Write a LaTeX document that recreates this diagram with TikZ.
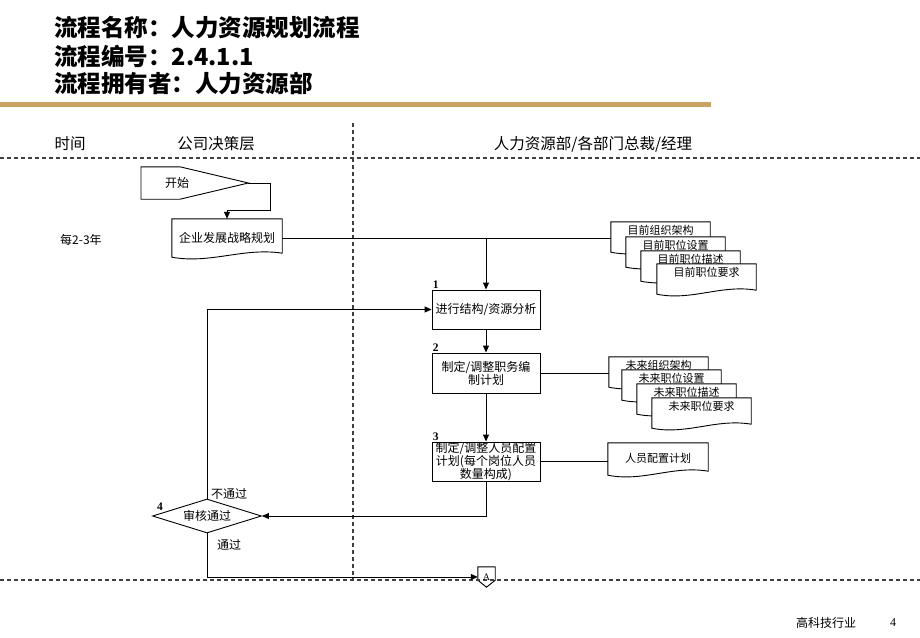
\documentclass[tikz,border=0pt]{standalone}
\usepackage{fontspec}
\setmainfont{Noto Sans CJK SC}
\newfontfamily\serifnum{Liberation Serif}
\usetikzlibrary{arrows.meta,calc,shapes.geometric}
\definecolor{goldbar}{HTML}{C9A465}
\pgfdeclarelayer{background}
\pgfsetlayers{background,main}
\newcommand\docdraw[1]{%
  \draw[docline] (#1.north west) -- (#1.north east) -- ($(#1.south east)+(0,-4)$)
    .. controls ($(#1.south east)!0.35!(#1.south west)+(0,-10)$) and ($(#1.south east)!0.65!(#1.south west)+(0,7)$) .. (#1.south west) -- cycle;}
\begin{document}
\begin{tikzpicture}[x=1pt,y=-1pt,
  every node/.style={font=\fontsize{12}{13}\selectfont, inner sep=1pt},
  title/.style={anchor=west, font=\fontsize{23.5}{26}\selectfont\bfseries},
  head/.style={font=\fontsize{15.5}{17}\selectfont},
  dline/.style={dash pattern=on 4pt off 3pt, line width=1.1pt, black!75},
  conn/.style={line width=1pt},
  arr/.style={conn, -{Triangle[length=7pt,width=6pt]}},
  box/.style={draw, line width=0.9pt, minimum width=108pt, align=center},
  docnode/.style={minimum width=99pt, inner xsep=1pt, inner ysep=2pt, text height=10pt, text depth=16pt, font=\fontsize{11}{12}\selectfont},
  docline/.style={draw, fill=white, line width=0.9pt},
  num/.style={font=\serifnum\fontsize{11.5}{12}\selectfont\bfseries, inner sep=1pt}]
\useasboundingbox (0,0) rectangle (920,637);

% title
\node[title] (t1) at (53,28) {流程名称：人力资源规划流程};
\node[title] (t2) at (53,56) {流程编号：2.4.1.1};
\node[title] (t3) at (53,84) {流程拥有者：人力资源部};
\fill[goldbar] (0,102) rectangle (711,107);

% lanes
\draw[dline] (353,123) -- (353,581);
\draw[dline] (0,158) -- (920,158);
\draw[dline] (0,580) -- (920,580);
\node[head] (h1) at (70,144) {时间};
\node[head] (h2) at (216,144) {公司决策层};
\node[head] (h3) at (593,144) {人力资源部/各部门总裁/经理};
\node[anchor=west] (yr) at (59,240) {每2-3年};

% start
\node[anchor=west, text width=99pt, inner xsep=4pt, minimum height=32pt, align=left] (start) at (141,183) {\hspace{20pt}开始};
\draw[line width=0.9pt] (start.north west) -- ($(start.north west)+(39,0)$) -- (start.east) -- ($(start.south west)+(39,0)$) -- (start.south west) -- cycle;

% plan document
\node[minimum width=110pt, minimum height=38pt] (plan) at (227,238) {企业发展战略规划};

% process boxes
\node[box, minimum height=39pt, label={[num, anchor=south west]north west:1}] (s1) at (486,309.5) {进行结构/资源分析};
\node[box, minimum height=40pt, label={[num, anchor=south west]north west:2}] (s2) at (486,373) {制定/调整职务编\\制计划};
\node[box, minimum height=39pt, inner ysep=0pt, label={[num, anchor=south west]north west:3}] (s3) at (486,461.5) {制定/调整人员配置\\计划(每个岗位人员\\数量构成)};

% decision
\node[diamond, draw, line width=0.9pt, minimum width=109pt, minimum height=34pt, aspect=3.2, inner sep=0pt] (dec) at (207,516) {审核通过};
\node[num, anchor=south west] (n4) at (156,512) {4};

% off-page connector
\node[minimum width=17pt, minimum height=20pt, inner sep=0pt, font=\serifnum\fontsize{10}{10}\selectfont] (A) at (486.5,577) {A};

% current documents stack
\node[docnode] (c1) at (660.5,237) {目前组织架构};
\node[docnode] (c2) at (675.5,252) {目前职位设置};
\node[docnode] (c3) at (690.5,266) {目前职位描述};
\node[docnode] (c4) at (706.5,279) {目前职位要求};

% future documents stack
\node[docnode] (f1) at (658.5,372) {未来组织架构};
\node[docnode] (f2) at (671.5,385) {未来职位设置};
\node[docnode] (f3) at (686.5,399) {未来职位描述};
\node[docnode] (f4) at (701.5,413) {未来职位要求};

% staffing plan doc
\node[minimum width=100pt, minimum height=32pt, inner ysep=0pt, text height=9pt, text depth=3pt, font=\fontsize{11}{12}\selectfont] (staff) at (658,459) {人员配置计划};

% document outlines (behind the texts)
\begin{pgfonlayer}{background}
  \docdraw{plan}
  \foreach \n in {c1,c2,c3,c4,f1,f2,f3,f4}{\docdraw{\n}}
  \docdraw{staff}
  \draw[line width=0.9pt, fill=white] (A.north west) -- (A.north east) -- ($(A.south east)+(0,-7)$) -- (A.south) -- ($(A.south west)+(0,-7)$) -- cycle;
\end{pgfonlayer}

% connectors
\draw[arr] (start.east) -| ($(start.east)+(22,27)$) -| (plan.north);
\draw[conn] (plan.east) -- (plan.east -| c1.west);
\draw[arr] (plan.east -| s1.north) -- (s1.north);
\draw[arr] (s1) -- (s2);
\draw[arr] (s2) -- (s3);
\draw[conn] (s2.east) -- (s2.east -| f1.west);
\draw[conn] (s3.east) -- (s3.east -| staff.west);
\draw[arr] (s3.south) |- (dec.east);
\draw[arr] (dec.north) |- (s1.west);
\draw[arr] (dec.south) |- (A.west);
\node[anchor=west] (fail) at (210,494) {不通过};
\node[anchor=west] (pass) at (216,545) {通过};

% footer
\node (ft) at (826,623) {高科技行业};
\node[font=\serifnum\fontsize{12}{12}\selectfont] (pg) at (893,623) {4};
\end{tikzpicture}
\end{document}
